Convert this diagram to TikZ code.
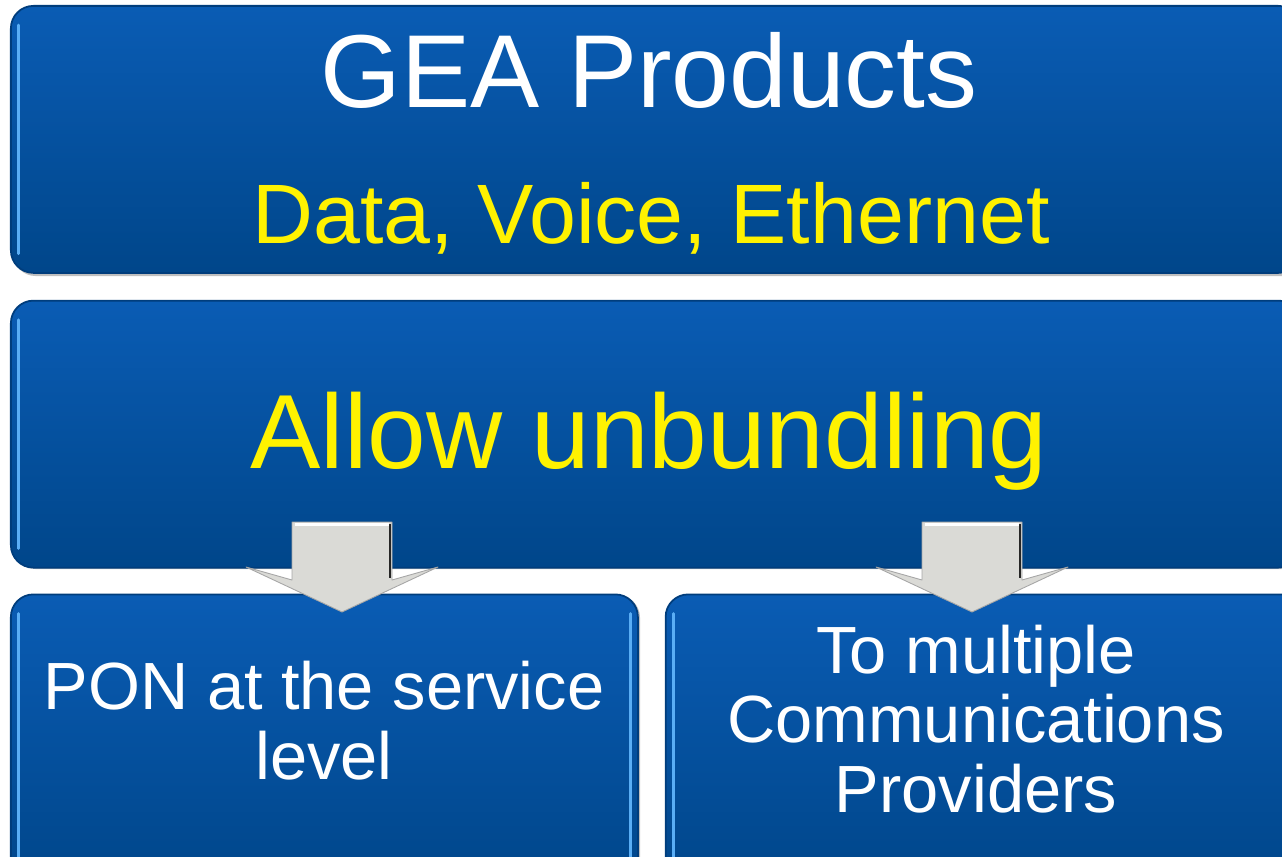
\documentclass[tikz,border=0pt]{standalone}
\usepackage{fontspec}
\setmainfont{Liberation Sans}
\usetikzlibrary{positioning}
\usetikzlibrary{shadows}

\definecolor{boxtop}{HTML}{0A5CB4}
\definecolor{boxbot}{HTML}{00468A}
\definecolor{rim}{HTML}{003D7C}
\definecolor{glint}{HTML}{5AAEF5}
\definecolor{arrowgray}{HTML}{DADAD6}

\tikzset{
	bluebox/.style={rounded corners=0.45cm, draw=rim, line width=1pt, top color=boxtop, bottom color=boxbot, inner sep=0pt},
	boxshadow/.style={fill=black, opacity=0.25, rounded corners=0.45cm},
	shine/.style={glint, line width=1.6pt, line cap=round},
	downarrow/.style={fill=arrowgray, draw=gray!70, line width=0.5pt, line join=round},
	titletext/.style={font=\fontsize{59}{62}\selectfont, text=white, inner sep=0pt, anchor=base},
	subtext/.style={font=\fontsize{48}{50}\selectfont, text=yellow, inner sep=0pt, anchor=base},
	keytext/.style={font=\fontsize{60}{62}\selectfont, text=yellow, inner sep=0pt, anchor=base},
	leaftext/.style={font=\fontsize{38}{39.5}\selectfont, text=white, inner sep=0pt, align=center, anchor=base}
}

\begin{document}
\begin{tikzpicture}
			\useasboundingbox (0,0) rectangle (25.64,-17.12);
			\clip (0,0) rectangle (25.64,-17.12);
			% shadows under the boxes
			\fill[boxshadow] (0.26,-0.2) rectangle (26.1,-5.52) (0.26,-6.06) rectangle (26.1,-11.38);
			\fill[boxshadow] (0.26,-11.9) rectangle (12.8,-17.8) (13.32,-11.9) rectangle (26.1,-17.8);
			% boxes
			\node[bluebox, minimum width=25.8cm, minimum height=5.34cm, anchor=north west] (gea) at (0.2,-0.1) {};
			\node[bluebox, minimum width=25.8cm, minimum height=5.34cm, below=0.52cm of gea.south west, anchor=north west] (unbundle) {};
			\node[bluebox, minimum width=12.54cm, minimum height=5.8cm, below=0.5cm of unbundle.south west, anchor=north west] (pon) {};
			\node[bluebox, minimum width=12.8cm, minimum height=5.8cm, right=0.52cm of pon.north east, anchor=north west] (multi) {};
			\draw[shine] ([shift={(0.17,-0.4)}]gea.north west) -- ([shift={(0.17,0.4)}]gea.south west);
			\draw[shine] ([shift={(0.17,-0.4)}]unbundle.north west) -- ([shift={(0.17,0.4)}]unbundle.south west);
			\draw[shine] ([shift={(0.17,-0.4)}]pon.north west) -- ([shift={(0.17,0.4)}]pon.south west);
			\draw[shine] ([shift={(-0.17,-0.4)}]pon.north east) -- ([shift={(-0.17,0.4)}]pon.south east);
			\draw[shine] ([shift={(0.17,-0.4)}]multi.north west) -- ([shift={(0.17,0.4)}]multi.south west);
			% labels
			\node[titletext] (title) at (12.98,-2.16) {GEA Products};
			\node[subtext] (services) at (13.02,-4.86) {Data, Voice, Ethernet};
			\node[keytext] (allow) at (12.98,-9.36) {Allow unbundling};
			\node[leaftext] (ponlabel) at (6.48,-15.58) {PON at the service\\level};
			\node[leaftext] (multilabel) at (19.52,-16.24) {To multiple\\Communications\\Providers};
			% block arrows from unbundle down to pon and multi
			\foreach \x in {6.84,19.44}{
				\draw[downarrow] (\x,-10.44) ++(-1,0) -- ++(2,0) -- ++(0,-1.16) -- ++(0.92,0.26) -- (\x,-12.24) -- ++(-1.92,0.9) -- ++(0.92,-0.26) -- cycle;
				\draw[white, line width=1.4pt] (\x-0.94,-10.49) -- (\x+0.94,-10.49);
				\draw[gray!30!black, line width=1.6pt] (\x+0.96,-10.47) -- (\x+0.96,-11.56);
			}
		\end{tikzpicture}
\end{document}
